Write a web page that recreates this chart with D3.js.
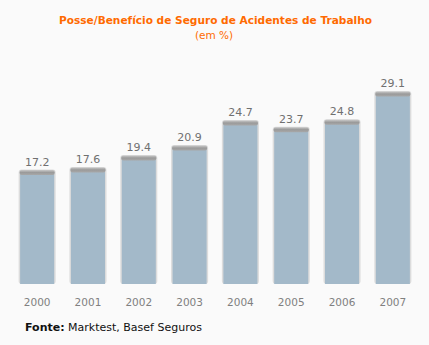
<!DOCTYPE html>
<html><head><meta charset="utf-8">
<script src="https://cdn.jsdelivr.net/npm/d3@7"></script>
<style>body{margin:0;background:#fafafa;}svg{display:block;}</style>
</head><body>
<script>
const years = ["2000","2001","2002","2003","2004","2005","2006","2007"];
const values = [17.2,17.6,19.4,20.9,24.7,23.7,24.8,29.1];
const W=429,H=345;
const svg=d3.select("body").append("svg").attr("width",W).attr("height",H);
svg.append("rect").attr("width",W).attr("height",H).attr("fill","#fafafa");
const defs=svg.append("defs");
const cg=defs.append("linearGradient").attr("id","cap").attr("x1",0).attr("y1",0).attr("x2",0).attr("y2",1);
cg.append("stop").attr("offset","0%").attr("stop-color","#c8c8c8");
cg.append("stop").attr("offset","50%").attr("stop-color","#9a9a9a");
cg.append("stop").attr("offset","100%").attr("stop-color","#a8a8a8");
const x=d3.scaleBand().domain(years).range([12,418]).paddingInner(0.33).paddingOuter(0.16);
const y=d3.scaleLinear().domain([0,29.1]).range([284,92]);
const g=svg.append("g");
const bars=g.selectAll("g.bar").data(values).join("g");
bars.append("rect").attr("x",(d,i)=>x(years[i])-1.5).attr("y",(d)=>y(d)-1).attr("width",x.bandwidth()+3)
  .attr("height",d=>284-y(d)+1).attr("rx",3).attr("fill","#dcdcdc");
bars.append("rect").attr("x",(d,i)=>x(years[i])).attr("y",d=>y(d)+3).attr("width",x.bandwidth())
  .attr("height",d=>284-y(d)-3).attr("fill","#a3b9c9");
bars.append("rect").attr("x",(d,i)=>x(years[i])-0.5).attr("y",d=>y(d)-0.5).attr("width",x.bandwidth()+1)
  .attr("height",5).attr("rx",2).attr("fill","url(#cap)");
bars.append("text").attr("x",(d,i)=>x(years[i])+x.bandwidth()/2).attr("y",d=>y(d)-5)
  .attr("text-anchor","middle").attr("font-family","DejaVu Sans, Verdana, sans-serif").attr("font-size",11)
  .attr("fill","#707070").text(d=>d.toFixed(1));
g.selectAll("text.yr").data(years).join("text").attr("class","yr")
  .attr("x",d=>x(d)+x.bandwidth()/2).attr("y",306).attr("text-anchor","middle")
  .attr("font-family","DejaVu Sans, Verdana, sans-serif").attr("font-size",10.5).attr("fill","#808080").text(d=>d);
svg.append("text").attr("x",215.5).attr("y",24).attr("text-anchor","middle")
  .attr("font-family","DejaVu Sans, Verdana, sans-serif").attr("font-weight","bold").attr("font-size",10.5)
  .attr("textLength",313).attr("lengthAdjust","spacingAndGlyphs")
  .attr("fill","#ff6a00").text("Posse/Benefício de Seguro de Acidentes de Trabalho");
svg.append("text").attr("x",214).attr("y",39).attr("text-anchor","middle")
  .attr("font-family","DejaVu Sans, Verdana, sans-serif").attr("font-size",10.5)
  .attr("fill","#ff6a00").text("(em %)");
const f=svg.append("text").attr("x",25).attr("y",331).attr("font-family","DejaVu Sans, Verdana, sans-serif").attr("font-size",11).attr("fill","#111");
f.append("tspan").attr("font-weight","bold").text("Fonte:");
f.append("tspan").text(" Marktest, Basef Seguros");
</script>
</body></html>
